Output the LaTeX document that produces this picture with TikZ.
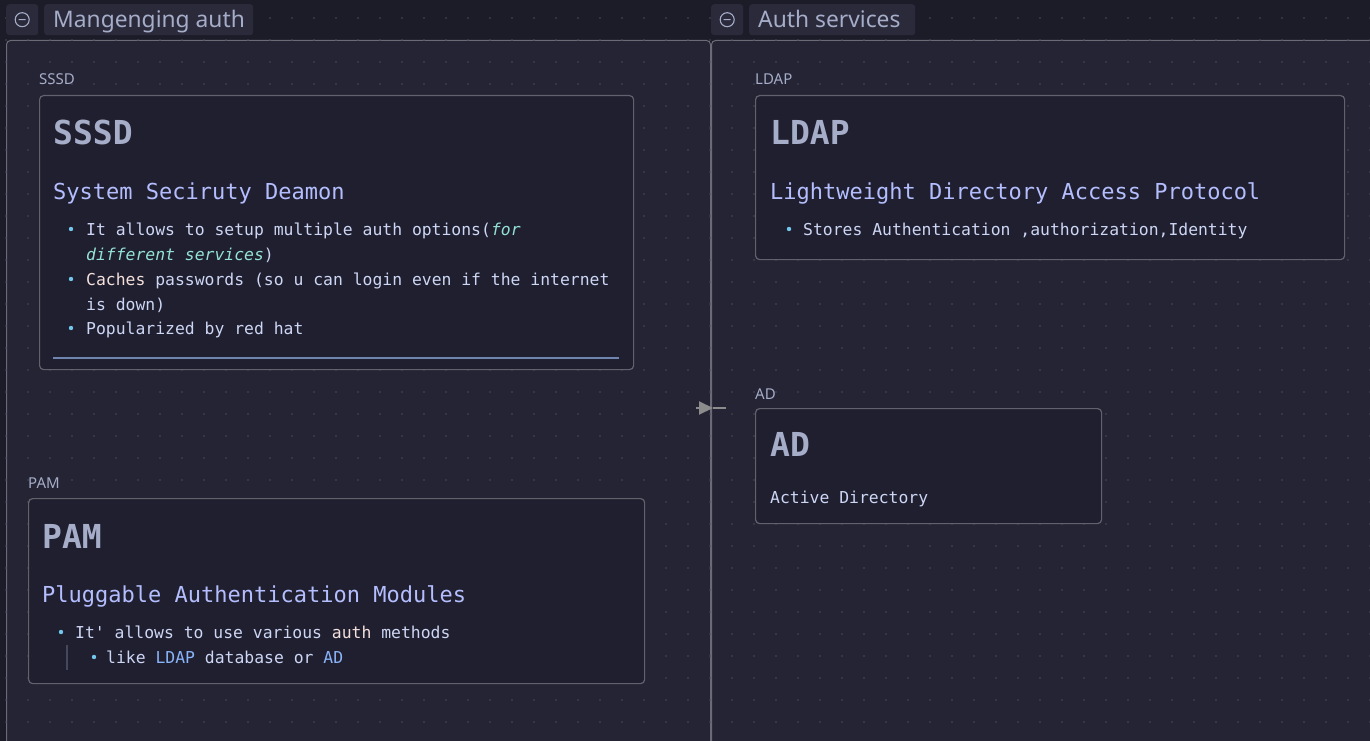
\documentclass[tikz,border=0pt]{standalone}
\usepackage{fontspec}
\setmainfont{Noto Sans}
\newfontfamily\codefont{DejaVu Sans Mono}
\usetikzlibrary{arrows.meta}
\definecolor{canvasbg}{HTML}{1C1C29}
\definecolor{groupbg}{HTML}{242434}
\definecolor{groupline}{HTML}{6B6B76}
\definecolor{chipbg}{HTML}{2A2A3B}
\definecolor{cardbg}{HTML}{1F1F2F}
\definecolor{cardline}{HTML}{62626E}
\definecolor{headc}{HTML}{A6ADC8}
\definecolor{lavc}{HTML}{B4BEFE}
\definecolor{bodyc}{HTML}{CDD6F4}
\definecolor{bulletc}{HTML}{74C7EC}
\definecolor{tealc}{HTML}{94E2D5}
\definecolor{rosec}{HTML}{F5E0DC}
\definecolor{bluec}{HTML}{89B4FA}
\definecolor{rulec}{HTML}{6F85B0}
\definecolor{barc}{HTML}{45475A}
\definecolor{gridc}{HTML}{4A4A5B}
\definecolor{arrowc}{HTML}{8C8C8C}
\begin{document}
\begin{tikzpicture}[x=1pt, y=-1pt,
    group_box/.style={rectangle, draw=groupline, fill=groupbg, rounded corners=4pt, line width=1pt, anchor=north west, inner sep=0pt},
    chip_box/.style={rectangle, fill=chipbg, rounded corners=3pt, anchor=north west, inner sep=0pt, minimum height=31pt},
    card_box/.style={rectangle, draw=cardline, fill=cardbg, rounded corners=4pt, line width=1.2pt, anchor=north west, inner sep=0pt},
    head_text/.style={anchor=base west, inner sep=0pt, text=headc, font=\fontsize{22.8}{27}\selectfont},
    tag_text/.style={anchor=base west, inner sep=0pt, text=headc, font=\fontsize{15}{18}\selectfont},
    title_text/.style={anchor=base west, inner sep=0pt, text=headc, font=\codefont\bfseries\fontsize{33}{40}\selectfont},
    sub_text/.style={anchor=base west, inner sep=0pt, text=lavc, font=\codefont\fontsize{22}{26}\selectfont},
    body_text/.style={anchor=base west, inner sep=0pt, text=bodyc, font=\codefont\fontsize{16.4}{25}\selectfont},
    arrow/.style={-{Triangle[length=14pt,width=13pt]}, line width=2pt, arrowc}
]
    \useasboundingbox (0,0) rectangle (1370,741);
    \clip (0,0) rectangle (1370,741);
    \fill[canvasbg] (0,0) rectangle (1370,741);

    % Groups
    \node[group_box, minimum width=704pt, minimum height=730pt] (grpManage) at (6,40) {};
    \node[group_box, minimum width=680pt, minimum height=730pt] (grpServices) at (711,40) {};

    % Grid
    \foreach \i in {0,...,62}
        \foreach \j in {0,...,33}
            \fill[gridc] (6+22*\i, 18+22*\j) circle (0.9pt);

    % Group headers
    \node[chip_box, minimum width=32pt] (iconManage) at (6,4) {};
    \draw[headc, line width=1.1pt] (iconManage.center) circle (7pt) +(-3.5,0) -- +(3.5,0);
    \node[chip_box, minimum width=209pt] (chipManage) at (44,4) {};
    \node[head_text] (headManage) at (53,28) {Mangenging auth};

    \node[chip_box, minimum width=32pt] (iconServices) at (711,4) {};
    \draw[headc, line width=1.1pt] (iconServices.center) circle (7pt) +(-3.5,0) -- +(3.5,0);
    \node[chip_box, minimum width=166pt] (chipServices) at (749,4) {};
    \node[head_text] (headServices) at (758,28) {Auth services};

    % SSSD
    \node[tag_text] (tagSssd) at (39,85) {SSSD};
    \node[card_box, minimum width=594pt, minimum height=274pt] (sssd) at (39,95) {};
    \node[title_text] (sssdTitle) at (53,145) {SSSD};
    \node[sub_text] (sssdSub) at (53,199) {System Seciruty Deamon};
    \fill[bulletc] (71,229) circle (2.2pt);
    \node[body_text] (sssdL1) at (86,235) {It allows to setup multiple auth options(\textcolor{tealc}{\itshape for}};
    \node[body_text] (sssdL2) at (86,260) {\textcolor{tealc}{\itshape different services})};
    \fill[bulletc] (71,279) circle (2.2pt);
    \node[body_text] (sssdL3) at (86,285) {\textcolor{rosec}{Caches} passwords (so u can login even if the internet};
    \node[body_text] (sssdL4) at (86,310) {is down)};
    \fill[bulletc] (71,328) circle (2.2pt);
    \node[body_text] (sssdL5) at (86,334) {Popularized by red hat};
    \draw[rulec, line width=1.2pt] (53,358) -- (619,358);

    % PAM
    \node[tag_text] (tagPam) at (28,488) {PAM};
    \node[card_box, minimum width=616pt, minimum height=185pt] (pam) at (28,498) {};
    \node[title_text] (pamTitle) at (42,548) {PAM};
    \node[sub_text] (pamSub) at (42,602) {Pluggable Authentication Modules};
    \fill[bulletc] (61,632) circle (2.2pt);
    \node[body_text] (pamL1) at (75,638) {It' allows to use various \textcolor{rosec}{auth} methods};
    \draw[barc, line width=1.2pt] (67,645) -- (67,670);
    \fill[bulletc] (94,657) circle (2.2pt);
    \node[body_text] (pamL2) at (106,663) {like \textcolor{bluec}{LDAP} database or \textcolor{bluec}{AD}};

    % LDAP
    \node[tag_text] (tagLdap) at (755,85) {LDAP};
    \node[card_box, minimum width=589pt, minimum height=164pt] (ldap) at (755,95) {};
    \node[title_text] (ldapTitle) at (770,145) {LDAP};
    \node[sub_text] (ldapSub) at (770,199) {Lightweight Directory Access Protocol};
    \fill[bulletc] (789,229) circle (2.2pt);
    \node[body_text] (ldapL1) at (803,235) {Stores Authentication ,authorization,Identity};

    % AD
    \node[tag_text] (tagAd) at (755,399) {AD};
    \node[card_box, minimum width=346pt, minimum height=115pt] (ad) at (755,408) {};
    \node[title_text] (adTitle) at (770,456) {AD};
    \node[body_text] (adL1) at (770,503) {Active Directory};

    % Arrows
    \coordinate (linkStart) at (696,408);
    \coordinate (linkTip) at (713,408);
    \coordinate (linkEnd) at (726,408);
    \draw[arrow] (linkStart) -- (linkTip);
    \draw[arrowc, line width=2pt] (linkTip) -- (linkEnd);
\end{tikzpicture}
\end{document}
